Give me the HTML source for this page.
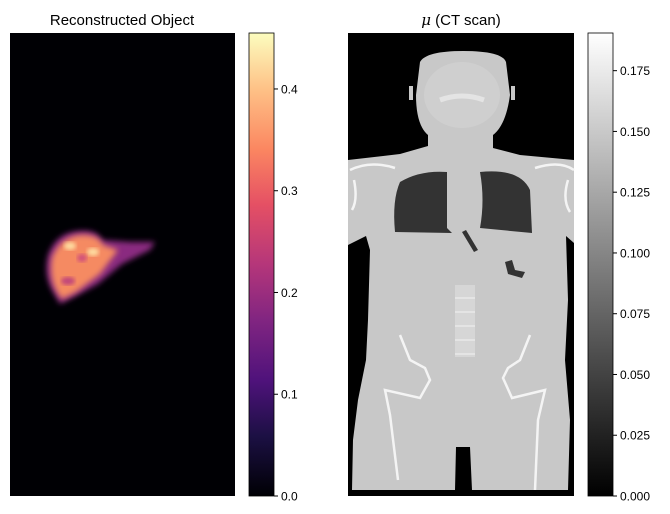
<!DOCTYPE html>
<html><head><meta charset="utf-8"><style>
body{margin:0;background:#fff;}
svg{display:block;font-family:"Liberation Sans","DejaVu Sans",sans-serif;}
</style></head><body>
<svg id="fig" width="670" height="514" viewBox="0 0 670 514">
<defs>
<linearGradient id="magma" x1="0" y1="1" x2="0" y2="0">
<stop offset="0" stop-color="#000004"/><stop offset="0.13" stop-color="#1c1044"/>
<stop offset="0.25" stop-color="#4f127b"/><stop offset="0.38" stop-color="#812581"/>
<stop offset="0.5" stop-color="#b5367a"/><stop offset="0.63" stop-color="#e55064"/>
<stop offset="0.75" stop-color="#fb8761"/><stop offset="0.88" stop-color="#fec287"/>
<stop offset="1" stop-color="#fcfdbf"/></linearGradient>
<linearGradient id="gray" x1="0" y1="1" x2="0" y2="0"><stop offset="0" stop-color="#000"/><stop offset="1" stop-color="#fff"/></linearGradient>
<filter id="blur" x="-50%" y="-50%" width="200%" height="200%"><feGaussianBlur stdDeviation="3"/></filter>
<filter id="blur2"><feGaussianBlur stdDeviation="2"/></filter>
</defs>

<text x="122" y="25" text-anchor="middle" font-size="15">Reconstructed Object</text>
<rect x="10" y="33" width="225" height="463" fill="#000004"/>
<g>
<path d="M48,255 Q56,233 78,231 Q97,229 102,240 L130,242 L155,242 L150,250 L122,264 L98,284 L72,298 L60,304 L53,292 Q43,275 48,255 Z" fill="#8a2a80" filter="url(#blur)"/>
<path d="M52,258 Q60,237 80,235 Q98,234 103,245 L118,250 L100,274 L76,292 L62,299 Q48,282 52,258 Z" fill="#f58a62" filter="url(#blur)"/>
<ellipse cx="70" cy="246" rx="6" ry="4" fill="#fedca0" filter="url(#blur2)"/>
<ellipse cx="93" cy="252" rx="6" ry="4" fill="#fedca0" filter="url(#blur2)"/>
<ellipse cx="68" cy="281" rx="7" ry="4" fill="#c0457a" filter="url(#blur2)"/>
<ellipse cx="82" cy="258" rx="5" ry="4" fill="#d0507a" filter="url(#blur2)"/>
</g>
<rect x="249" y="33" width="25" height="463" fill="url(#magma)" stroke="#000" stroke-width="0.8"/>
<g id="lticks"></g>

<text x="461" y="25" text-anchor="middle" font-size="15"><tspan font-style="italic" font-family="DejaVu Serif, serif">μ</tspan> (CT scan)</text>
<rect x="348" y="33" width="226" height="463" fill="#000"/>
<g>
<path d="M420,62 Q426,51 463,51 Q502,51 506,62 L510,95 Q506,125 493,135 L493,148 L520,155 L574,160 L574,243 L566,236 L568,300 L565,360 L570,420 L568,490 L472,490 L470,447 L456,447 L455,490 L352,490 L353,440 L358,400 L366,360 L368,320 L370,250 L366,236 L348,245 L348,160 L400,154 L428,146 L428,135 Q416,125 416,95 Z" fill="#c8c8c8"/>
<path d="M409,86 L413,86 L413,100 L409,100 Z M511,86 L515,86 L515,100 L511,100 Z" fill="#c8c8c8"/>
<ellipse cx="462" cy="95" rx="38" ry="33" fill="#cfcfcf"/>
<path d="M440,100 Q462,92 484,100" stroke="#e4e4e4" stroke-width="5" fill="none"/>
<path d="M400,182 Q420,170 447,172 L447,228 L452,233 L395,232 Q392,200 400,182 Z" fill="#333"/>
<path d="M480,172 Q520,168 530,190 L532,233 L480,228 Q485,200 480,172 Z" fill="#333"/>
<path d="M462,232 L466,230 L478,250 L474,252 Z" fill="#333"/>
<path d="M505,262 L512,260 L515,270 L525,272 L522,278 L508,274 Z" fill="#333"/>
<rect x="455" y="285" width="20" height="72" fill="#d6d6d6"/>
<g stroke="#ececec" stroke-width="1.3" fill="none">
<line x1="455" y1="298" x2="475" y2="298"/><line x1="455" y1="312" x2="475" y2="312"/>
<line x1="455" y1="326" x2="475" y2="326"/><line x1="455" y1="340" x2="475" y2="340"/>
<line x1="455" y1="354" x2="475" y2="354"/>
</g>
<g stroke="#f4f4f4" stroke-width="2.5" fill="none">
<path d="M400,335 L410,360 L425,368 L430,380 L420,398 L385,390 L390,415 L398,480"/>
<path d="M530,335 L520,360 L508,368 L503,378 L512,398 L545,390 L538,420 L535,490"/>
<path d="M350,170 Q370,160 395,168 M535,168 Q560,160 574,170"/>
<path d="M354,180 Q358,200 352,210 M568,180 Q562,200 570,212"/>
</g>
</g>
<rect x="588" y="33" width="25" height="463" fill="url(#gray)" stroke="#000" stroke-width="0.8"/>
<g id="rticks"></g>
</svg>
<script>
const leftTicks = [0.0, 0.1, 0.2, 0.3, 0.4];
const leftMax = 0.455;
const rightTicks = [0.000, 0.025, 0.050, 0.075, 0.100, 0.125, 0.150, 0.175];
const rightMax = 0.1905;
const NS = "http://www.w3.org/2000/svg";
function drawTicks(gid, ticks, vmax, x0, dec) {
  const g = document.getElementById(gid);
  const top = 33, bot = 496;
  ticks.forEach(function(v){
    const y = bot - (v / vmax) * (bot - top);
    const l = document.createElementNS(NS, "line");
    l.setAttribute("x1", x0); l.setAttribute("x2", x0 + 4);
    l.setAttribute("y1", y); l.setAttribute("y2", y);
    l.setAttribute("stroke", "#000");
    
    
    g.appendChild(l);
    const t = document.createElementNS(NS, "text");
    t.setAttribute("x", x0 + 7); t.setAttribute("y", y + 4.5);
    t.setAttribute("font-size", "12");
    t.textContent = v.toFixed(dec);
    
    
    g.appendChild(t);
  });
}
drawTicks("lticks", leftTicks, leftMax, 274, 1);
drawTicks("rticks", rightTicks, rightMax, 613, 3);
</script>
</body></html>
